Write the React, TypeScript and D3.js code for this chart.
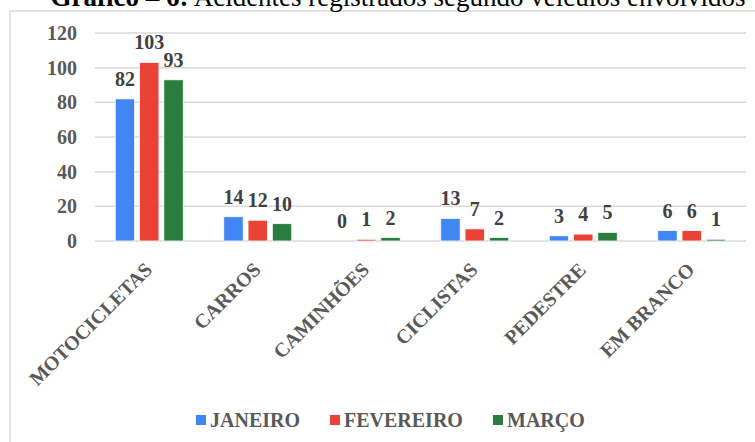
import React from 'react';
import { scaleBand, scaleLinear } from 'd3';

const categories = ['MOTOCICLETAS', 'CARROS', 'CAMINHÕES', 'CICLISTAS', 'PEDESTRE', 'EM BRANCO'];
const seriesNames = ['JANEIRO', 'FEVEREIRO', 'MARÇO'];
const janeiro = [82, 14, 0, 13, 3, 6];
const fevereiro = [103, 12, 1, 7, 4, 6];
const marco = [93, 10, 2, 2, 5, 1];
const seriesColors = ['#4285F4', '#EA4335', '#2A7D3E'];
const yTicks = [0, 20, 40, 60, 80, 100, 120];

const W = 755;
const H = 442;
const FONT = '"Liberation Serif", "Times New Roman", serif';

const App: React.FC = () => {
  const values = [janeiro, fevereiro, marco];
  const x = scaleBand<string>().domain(categories).range([95, 746]);
  const inner = scaleBand<string>().domain(seriesNames).range([-34, 34]).paddingInner(0.2);
  const y = scaleLinear().domain([0, 120]).range([241, 33]);

  const legendX = [196, 330, 493];

  return (
    <svg width={W} height={H} style={{ position: 'absolute', left: 0, top: 0, background: '#fff' }}>
      <rect x={10} y={11} width={800} height={500} fill="#fff" stroke="#d9d9d9" strokeWidth={1.5} />
      <text x={398} y={6} textAnchor="middle" fontFamily={FONT} fontSize={27} fill="#000">
        <tspan fontWeight="bold">Gráfico – 6:</tspan> Acidentes registrados segundo veículos envolvidos
      </text>

      {yTicks.map(t => (
        <g key={t}>
          <line x1={95} x2={746} y1={y(t)} y2={y(t)} stroke="#d9d9d9" strokeWidth={1.5} />
          <text x={77} y={y(t) + 7} textAnchor="end" fontFamily={FONT} fontSize={20} fontWeight="bold" fill="#595959">{t}</text>
        </g>
      ))}

      {categories.map((c, ci) => {
        const cx = (x(c) ?? 0) + x.bandwidth() / 2;
        return (
          <g key={c}>
            {seriesNames.map((s, si) => {
              const v = values[si][ci];
              const bx = cx + (inner(s) ?? 0);
              return (
                <g key={s}>
                  <rect x={bx} y={y(v)} width={inner.bandwidth()} height={241 - y(v)} fill={seriesColors[si]} stroke="#fff" strokeWidth={0.8} />
                  <text x={bx + inner.bandwidth() / 2} y={y(v) - 13} textAnchor="middle" fontFamily={FONT} fontSize={20} fontWeight="bold" fill="#404040">{v}</text>
                </g>
              );
            })}
            <text transform={`translate(${cx + 4},${271}) rotate(-45)`} textAnchor="end" fontFamily={FONT} fontSize={20} fontWeight="bold" fill="#595959">{c}</text>
          </g>
        );
      })}

      {seriesNames.map((s, si) => (
        <g key={s}>
          <rect x={legendX[si]} y={415} width={10} height={10} fill={seriesColors[si]} />
          <text x={legendX[si] + 14} y={427} fontFamily={FONT} fontSize={20} fontWeight="bold" fill="#595959">{s}</text>
        </g>
      ))}
    </svg>
  );
};

export default App;
